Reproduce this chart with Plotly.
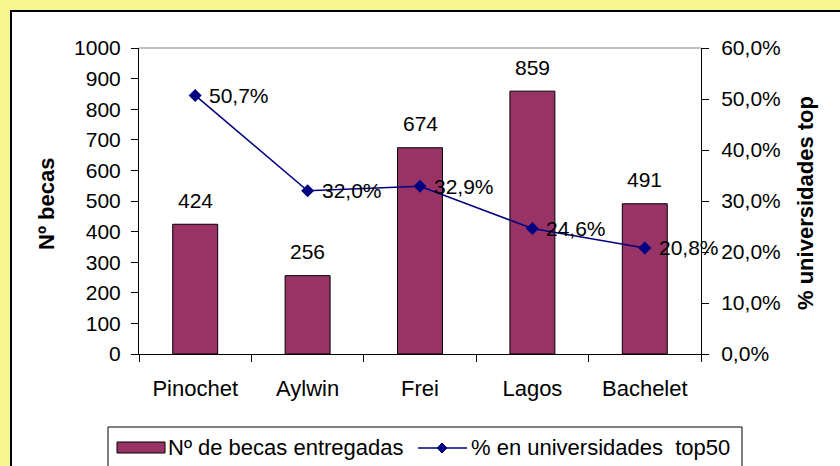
import plotly.graph_objects as go

# ---- data ----
categories = ["Pinochet", "Aylwin", "Frei", "Lagos", "Bachelet"]
becas = [424, 256, 674, 859, 491]
pct_top50 = [0.507, 0.320, 0.329, 0.246, 0.208]
left_ticks = [0, 100, 200, 300, 400, 500, 600, 700, 800, 900, 1000]
right_ticks = [0.0, 0.1, 0.2, 0.3, 0.4, 0.5, 0.6]
bar_name = "Nº de becas entregadas"
line_name = "% en universidades  top50"
left_title = "Nº becas"
right_title = "% universidades top"

W, H = 840, 466
FONT = "Liberation Sans, Arial, sans-serif"
FS = 21
FS_TXT = 22
BAR_COLOR = "#993366"
LINE_COLOR = "#000080"
BG = "#F6F68C"

def px(x):
    return x / W

def py(y):
    return 1 - y / H

x_dom = [px(139), px(701)]
y_dom = [py(354), py(48)]

fig = go.Figure()
fig.add_trace(go.Bar(
    x=categories, y=becas, name=bar_name, width=0.4,
    marker=dict(color=BAR_COLOR, line=dict(color="black", width=1)),
    xaxis="x", yaxis="y", showlegend=False,
))
fig.add_trace(go.Scatter(
    x=categories, y=pct_top50, name=line_name, mode="lines+markers",
    line=dict(color=LINE_COLOR, width=1.5),
    marker=dict(symbol="diamond", size=10, color=LINE_COLOR),
    xaxis="x", yaxis="y2", showlegend=False,
))

annotations = []
for c, v in zip(categories, becas):
    annotations.append(dict(x=c, y=v, xref="x", yref="y", text=str(v),
                            showarrow=False, xanchor="center", yanchor="middle", yshift=24,
                            font=dict(family=FONT, size=FS, color="black")))
for c, v in zip(categories, pct_top50):
    annotations.append(dict(x=c, y=v, xref="x", yref="y2",
                            text=f"{v*100:.1f}%".replace(".", ","),
                            showarrow=False, xanchor="left", yanchor="middle",
                            xshift=12,
                            font=dict(family=FONT, size=FS, color="black")))
# axis titles
annotations.append(dict(x=px(47), y=py(204), xref="paper", yref="paper",
                        text=f"<b>{left_title}</b>", textangle=-90, showarrow=False,
                        xanchor="center", yanchor="middle",
                        font=dict(family=FONT, size=FS_TXT, color="black")))
annotations.append(dict(x=px(805), y=py(203), xref="paper", yref="paper",
                        text=f"<b>{right_title}</b>", textangle=-90, showarrow=False,
                        xanchor="center", yanchor="middle",
                        font=dict(family=FONT, size=FS_TXT, color="black")))
# legend texts
annotations.append(dict(x=px(166), y=py(447), xref="paper", yref="paper",
                        text=bar_name, showarrow=False, xanchor="left", yanchor="middle",
                        font=dict(family=FONT, size=FS_TXT, color="black")))
annotations.append(dict(x=px(469), y=py(447), xref="paper", yref="paper",
                        text=line_name.replace("  ", "&nbsp; "), showarrow=False,
                        xanchor="left", yanchor="middle",
                        font=dict(family=FONT, size=FS_TXT, color="black")))

dx, dy = 5 / W, 5 / H
cx, cy = px(442), py(448)
shapes = [
    # white chart area with black border
    dict(type="rect", xref="paper", yref="paper", x0=px(11), x1=1.05, y0=-0.05, y1=py(11),
         fillcolor="white", line=dict(color="black", width=2), layer="below"),
    # top border of plot area (gray)
    dict(type="line", xref="paper", yref="paper", x0=x_dom[0], x1=x_dom[1], y0=y_dom[1], y1=y_dom[1],
         line=dict(color="#808080", width=1)),
    # legend box
    dict(type="rect", xref="paper", yref="paper", x0=px(108), x1=px(742), y0=-0.05, y1=py(427),
         fillcolor="white", line=dict(color="black", width=1)),
    # legend bar symbol
    dict(type="rect", xref="paper", yref="paper", x0=px(117), x1=px(165), y0=py(453), y1=py(442),
         fillcolor=BAR_COLOR, line=dict(color="black", width=1)),
    # legend line symbol
    dict(type="line", xref="paper", yref="paper", x0=px(418), x1=px(467), y0=cy, y1=cy,
         line=dict(color=LINE_COLOR, width=1.5)),
    dict(type="path", xref="paper", yref="paper",
         path=f"M {cx-dx},{cy} L {cx},{cy+dy} L {cx+dx},{cy} L {cx},{cy-dy} Z",
         fillcolor=LINE_COLOR, line=dict(color=LINE_COLOR, width=1)),
]

tickfont = dict(family=FONT, size=FS, color="black")
catfont = dict(family=FONT, size=FS_TXT, color="black")
common = dict(automargin=False, showgrid=False, zeroline=False)
fig.update_layout(
    template="none",
    width=W, height=H,
    margin=dict(l=0, r=0, t=0, b=0, pad=0),
    paper_bgcolor=BG, plot_bgcolor="white",
    separators=",.",
    showlegend=False,
    xaxis=dict(domain=x_dom, type="category", categoryorder="array", categoryarray=categories,
               range=[-0.5, 4.5], tickson="boundaries", ticks="outside", ticklen=7,
               tickcolor="black", showline=True, linecolor="black", linewidth=1,
               tickfont=catfont, ticklabelstandoff=15, anchor="y", **common),
    xaxis2=dict(domain=x_dom, overlaying="x", range=[-0.5, 4.5], tickmode="linear",
                tick0=-0.5, dtick=1, ticks="inside", ticklen=7, tickcolor="black",
                showticklabels=False, showline=False, anchor="y", side="bottom", **common),
    yaxis=dict(domain=y_dom, range=[0, 1000], tickvals=left_ticks, tickformat="d",
               ticks="outside", ticklen=7, tickcolor="black", showline=True,
               linecolor="black", linewidth=1, tickfont=tickfont, anchor="x",
               ticklabelstandoff=6, **common),
    yaxis2=dict(domain=y_dom, range=[0, 0.6], tickvals=right_ticks, tickformat=".1%",
                overlaying="y", side="right", ticks="outside", ticklen=7, tickcolor="black",
                showline=True, linecolor="black", linewidth=1, tickfont=tickfont,
                anchor="x", ticklabelstandoff=8, **common),
    yaxis3=dict(domain=y_dom, range=[0, 1000], tickvals=left_ticks, overlaying="y",
                side="left", ticks="inside", ticklen=7, tickcolor="black",
                showticklabels=False, showline=False, anchor="x", **common),
    yaxis4=dict(domain=y_dom, range=[0, 0.6], tickvals=right_ticks, overlaying="y",
                side="right", ticks="inside", ticklen=7, tickcolor="black",
                showticklabels=False, showline=False, anchor="x", **common),
    annotations=annotations,
    shapes=shapes,
)

fig.write_html("out.html", config={"displayModeBar": False, "staticPlot": True},
               post_script="document.body.style.margin='0';")
